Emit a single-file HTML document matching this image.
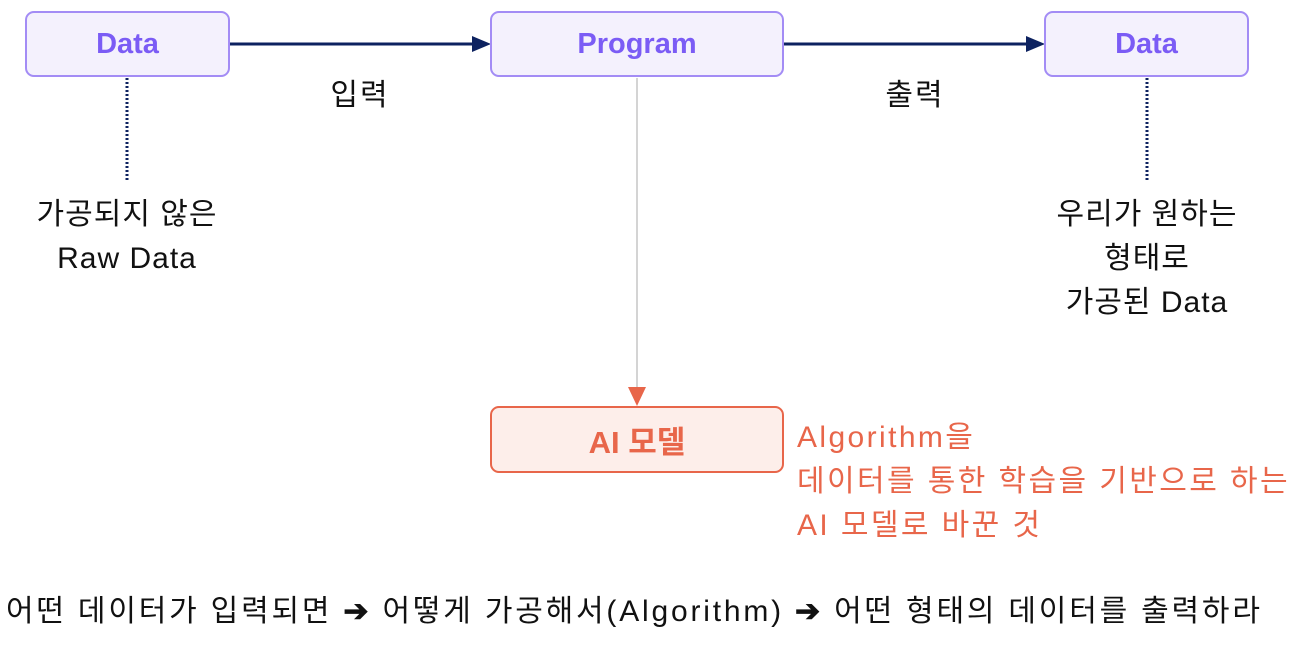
<!DOCTYPE html>
<html><head><meta charset="utf-8"><style>
body{margin:0;width:1298px;height:648px;background:#fff;position:relative;overflow:hidden;font-family:"Liberation Sans","Noto Sans CJK KR",sans-serif;}
.b{position:absolute;box-sizing:border-box;border:2px solid #a38cf5;background:#f4f1fd;border-radius:9px;color:#7b5cf5;font-weight:bold;font-size:29px;display:flex;align-items:center;justify-content:center;}
.t{position:absolute;font-size:30px;color:#111;text-align:center;line-height:44px;white-space:nowrap;letter-spacing:1px;}
</style></head><body>
<svg width="1298" height="648" style="position:absolute;left:0;top:0">
<line x1="230" y1="44" x2="475" y2="44" stroke="#0d2260" stroke-width="3"/>
<polygon points="472,36 491,44 472,52" fill="#0d2260"/>
<line x1="784" y1="44" x2="1028" y2="44" stroke="#0d2260" stroke-width="3"/>
<polygon points="1026,36 1045,44 1026,52" fill="#0d2260"/>
<line x1="127" y1="78" x2="127" y2="182" stroke="#0d2260" stroke-width="3" stroke-dasharray="2,2"/>
<line x1="1147" y1="78" x2="1147" y2="182" stroke="#0d2260" stroke-width="3" stroke-dasharray="2,2"/>
<line x1="637" y1="78" x2="637" y2="390" stroke="#aaa" stroke-width="1"/>
<polygon points="628,387 646,387 637,406" fill="#e8664a"/>
</svg>
<div class="b" style="left:25px;top:11px;width:205px;height:66px">Data</div>
<div class="b" style="left:490px;top:11px;width:294px;height:66px">Program</div>
<div class="b" style="left:1044px;top:11px;width:205px;height:66px">Data</div>
<div class="b" style="left:490px;top:406px;width:294px;height:67px;border-color:#e8664a;background:#fdeeea;color:#e8664a;font-size:31px">AI 모델</div>
<div class="t" style="left:300px;top:74px;width:120px;letter-spacing:2px">입력</div>
<div class="t" style="left:855px;top:74px;width:120px;letter-spacing:2px">출력</div>
<div class="t" style="left:17px;top:193px;width:220px">가공되지 않은<br>Raw Data</div>
<div class="t" style="left:1037px;top:193px;width:220px">우리가 원하는<br>형태로<br>가공된 Data</div>
<div class="t" style="left:797px;top:416px;text-align:left;color:#e8664a;letter-spacing:2.4px">Algorithm을<br>데이터를 통한 학습을 기반으로 하는<br>AI 모델로 바꾼 것</div>
<div class="t" style="left:6px;top:590px;text-align:left;letter-spacing:2.8px">어떤 데이터가 입력되면 <b>➔</b> 어떻게 가공해서(Algorithm) <b>➔</b> 어떤 형태의 데이터를 출력하라</div>
</body></html>
